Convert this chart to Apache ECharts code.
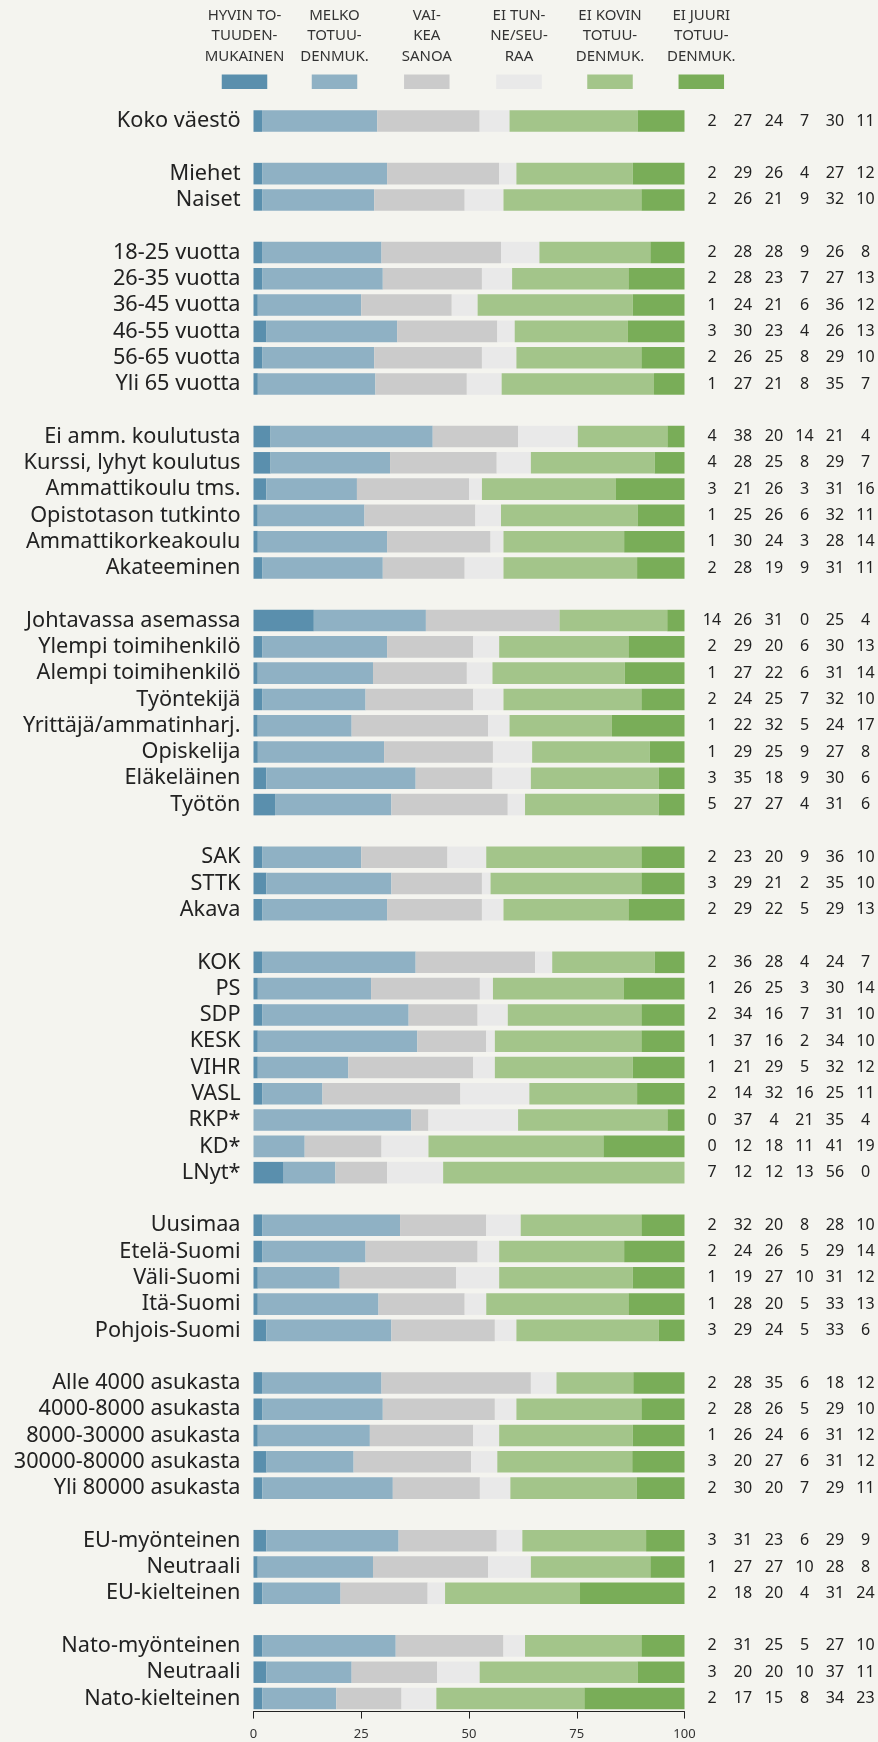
<!DOCTYPE html>
<html>
<head>
<meta charset="utf-8">
<script src="https://cdn.jsdelivr.net/npm/echarts@6/dist/echarts.min.js"></script>
<style>
  html, body { margin: 0; padding: 0; background: #f4f4ef; }
  #chart { width: 878px; height: 1742px; }
</style>
</head>
<body>
<div id="chart"></div>
<script>
// Respondent groups, top to bottom; a blank row separates consecutive groups.
const groups = [
  ['Koko väestö'],
  ['Miehet', 'Naiset'],
  ['18-25 vuotta', '26-35 vuotta', '36-45 vuotta', '46-55 vuotta', '56-65 vuotta', 'Yli 65 vuotta'],
  ['Ei amm. koulutusta', 'Kurssi, lyhyt koulutus', 'Ammattikoulu tms.', 'Opistotason tutkinto', 'Ammattikorkeakoulu', 'Akateeminen'],
  ['Johtavassa asemassa', 'Ylempi toimihenkilö', 'Alempi toimihenkilö', 'Työntekijä', 'Yrittäjä/ammatinharj.', 'Opiskelija', 'Eläkeläinen', 'Työtön'],
  ['SAK', 'STTK', 'Akava'],
  ['KOK', 'PS', 'SDP', 'KESK', 'VIHR', 'VASL', 'RKP*', 'KD*', 'LNyt*'],
  ['Uusimaa', 'Etelä-Suomi', 'Väli-Suomi', 'Itä-Suomi', 'Pohjois-Suomi'],
  ['Alle 4000 asukasta', '4000-8000 asukasta', '8000-30000 asukasta', '30000-80000 asukasta', 'Yli 80000 asukasta'],
  ['EU-myönteinen', 'Neutraali', 'EU-kielteinen'],
  ['Nato-myönteinen', 'Neutraali', 'Nato-kielteinen']
];

// Percentages per answer, one value per group row in the order above.
const hyvin   = [2, 2, 2, 2, 2, 1, 3, 2, 1, 4, 4, 3, 1, 1, 2, 14, 2, 1, 2, 1, 1, 3, 5, 2, 3, 2, 2, 1, 2, 1, 1, 2, 0, 0, 7, 2, 2, 1, 1, 3, 2, 2, 1, 3, 2, 3, 1, 2, 2, 3, 2];
const melko   = [27, 29, 26, 28, 28, 24, 30, 26, 27, 38, 28, 21, 25, 30, 28, 26, 29, 27, 24, 22, 29, 35, 27, 23, 29, 29, 36, 26, 34, 37, 21, 14, 37, 12, 12, 32, 24, 19, 28, 29, 28, 28, 26, 20, 30, 31, 27, 18, 31, 20, 17];
const vaikea  = [24, 26, 21, 28, 23, 21, 23, 25, 21, 20, 25, 26, 26, 24, 19, 31, 20, 22, 25, 32, 25, 18, 27, 20, 21, 22, 28, 25, 16, 16, 29, 32, 4, 18, 12, 20, 26, 27, 20, 24, 35, 26, 24, 27, 20, 23, 27, 20, 25, 20, 15];
const eiTunne = [7, 4, 9, 9, 7, 6, 4, 8, 8, 14, 8, 3, 6, 3, 9, 0, 6, 6, 7, 5, 9, 9, 4, 9, 2, 5, 4, 3, 7, 2, 5, 16, 21, 11, 13, 8, 5, 10, 5, 5, 6, 5, 6, 6, 7, 6, 10, 4, 5, 10, 8];
const eiKovin = [30, 27, 32, 26, 27, 36, 26, 29, 35, 21, 29, 31, 32, 28, 31, 25, 30, 31, 32, 24, 27, 30, 31, 36, 35, 29, 24, 30, 31, 34, 32, 25, 35, 41, 56, 28, 29, 31, 33, 33, 18, 29, 31, 31, 29, 29, 28, 31, 27, 37, 34];
const eiJuuri = [11, 12, 10, 8, 13, 12, 13, 10, 7, 4, 7, 16, 11, 14, 11, 4, 13, 14, 10, 17, 8, 6, 6, 10, 10, 13, 7, 14, 10, 10, 12, 11, 4, 19, 0, 10, 14, 12, 13, 6, 12, 10, 12, 12, 11, 9, 8, 24, 10, 11, 23];

const seriesNames = ['Hyvin totuudenmukainen', 'Melko totuudenmukainen', 'Vaikea sanoa', 'Ei tunne/seuraa', 'Ei kovin totuudenmukainen', 'Ei juuri totuudenmukainen'];
const legendTexts = ['HYVIN TO-\nTUUDEN-\nMUKAINEN', 'MELKO\nTOTUU-\nDENMUK.', 'VAI-\nKEA\nSANOA', 'EI TUN-\nNE/SEU-\nRAA', 'EI KOVIN\nTOTUU-\nDENMUK.', 'EI JUURI\nTOTUU-\nDENMUK.'];
const xTicks = [0, 25, 50, 75, 100];

const valueSets = [hyvin, melko, vaikea, eiTunne, eiKovin, eiJuuri];
const colors = ['#5a8fad', '#8fb1c4', '#cbcbcb', '#e9e9e9', '#a3c58a', '#79ad58'];
const FONT = 'Noto Sans';

// Flatten groups into axis rows; blank rows carry no data index.
const rows = [];
let k = 0;
groups.forEach((g, gi) => {
  if (gi > 0) rows.push({ label: '', k: null });
  g.forEach(label => rows.push({ label, k: k++ }));
});
const totals = hyvin.map((_, i) => valueSets.reduce((s, arr) => s + arr[i], 0));
const rowKeys = rows.map((r, i) => 'r' + i);

// Layout
const GRID_LEFT = 253.5, GRID_RIGHT_X = 684.5;
const numberCols = [712, 743, 774, 804.5, 835, 865.5];
const legendCenters = [244.5, 334.5, 426.8, 519, 610, 701.3];
const SW_W = 45.5, SW_H = 14.5;

const chart = echarts.init(document.getElementById('chart'), null, { renderer: 'canvas' });

const yAxes = [{
  type: 'category',
  inverse: true,
  data: rowKeys,
  axisLine: { show: false },
  axisTick: { show: false },
  splitLine: { show: false },
  axisLabel: {
    interval: 0,
    margin: 13,
    fontSize: 21.7,
    fontFamily: FONT,
    color: '#222',
    formatter: (v, i) => rows[i].label
  }
}];
valueSets.forEach((arr, s) => {
  yAxes.push({
    type: 'category',
    inverse: true,
    position: 'right',
    data: rowKeys,
    axisLine: { show: false },
    axisTick: { show: false },
    splitLine: { show: false },
    axisLabel: {
      interval: 0,
      margin: numberCols[s] - GRID_RIGHT_X,
      align: 'center',
      fontSize: 16,
      fontFamily: FONT,
      color: '#222',
      padding: [0, 0, 3, 0],
      formatter: (v, i) => rows[i].k == null ? '' : String(arr[rows[i].k])
    }
  });
});

const option = {
  backgroundColor: '#f4f4ef',
  animation: false,
  textStyle: { fontFamily: FONT },
  grid: { left: GRID_LEFT, right: 878 - GRID_RIGHT_X, top: 107.9, bottom: 30.4, containLabel: false },
  legend: seriesNames.map((n, i) => ({
    data: [n],
    left: legendCenters[i] - SW_W / 2,
    top: 74.5,
    padding: 0,
    itemGap: 0,
    itemWidth: SW_W,
    itemHeight: SW_H,
    icon: 'rect',
    selectedMode: false,
    formatter: () => '',
    textStyle: { fontSize: 1 }
  })),
  graphic: legendTexts.map((t, i) => ({
    type: 'text',
    x: legendCenters[i],
    y: 5,
    style: {
      text: t,
      align: 'center',
      verticalAlign: 'top',
      fontSize: 15,
      fontFamily: FONT,
      lineHeight: 20.5,
      fill: '#333'
    }
  })),
  xAxis: {
    type: 'value',
    min: xTicks[0],
    max: xTicks[xTicks.length - 1],
    interval: xTicks[1] - xTicks[0],
    axisLine: { show: true, lineStyle: { color: '#222', width: 1 } },
    axisTick: { show: true, length: 7, lineStyle: { color: '#222' } },
    splitLine: { show: false },
    axisLabel: { fontSize: 13, fontFamily: FONT, color: '#333', margin: 16 }
  },
  yAxis: yAxes,
  series: valueSets.map((arr, s) => ({
    name: seriesNames[s],
    type: 'bar',
    stack: 'all',
    yAxisIndex: 0,
    barWidth: '82%',
    itemStyle: { color: colors[s] },
    emphasis: { disabled: true },
    data: rows.map(r => r.k == null ? '-' : arr[r.k] / totals[r.k] * 100)
  }))
};

chart.setOption(option);
</script>
</body>
</html>
